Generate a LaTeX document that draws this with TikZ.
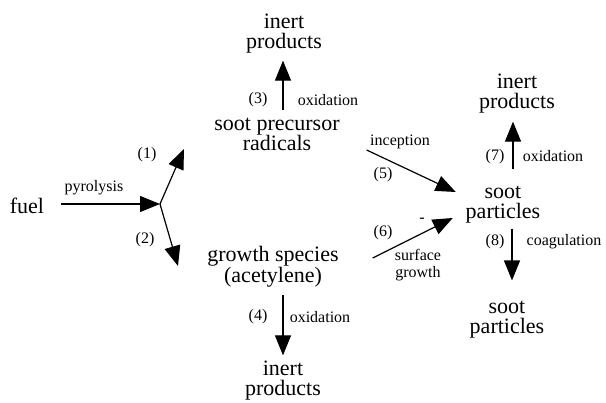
\documentclass[tikz,border=0pt]{standalone}
\usepackage{fontspec}
\setmainfont{Liberation Serif}
\usetikzlibrary{arrows.meta}
\begin{document}
\begin{tikzpicture}[x=1pt,y=-1pt,
  big/.style={font=\fontsize{22}{20}\selectfont, align=center, inner sep=0pt, outer sep=0pt},
  lab/.style={font=\fontsize{16}{17}\selectfont, align=center, inner sep=0pt, outer sep=0pt},
  arr/.style={line width=1.2pt, -{Triangle[length=20pt,width=16pt]}}]
\useasboundingbox[fill=white] (0,0) rectangle (606,403);
% main species
\node[big] (fuel)    at (27,206)  {fuel};
\node[big] (ipTop)   at (284,34)  {inert\\products};
\node[big] (spr)     at (277,134) {soot precursor\\radicals};
\node[big] (gs)      at (273,267) {growth species\\(acetylene)};
\node[big] (ipBot)   at (283,381) {inert\\products};
\node[big] (ipRight) at (517,94)  {inert\\products};
\node[big] (spRight) at (503,205) {soot\\particles};
\node[big] (spBot)   at (507,320) {soot\\particles};
% junction and free ends
\coordinate (j)  at (160,204);
\coordinate (t1) at (184,149);
\coordinate (t2) at (178,266);
% labels
\node[lab] (lpyr) at (94,188)  {pyrolysis};
\node[lab] (l1)   at (147,155) {(1)};
\node[lab] (l2)   at (145,240) {(2)};
\node[lab] (l3)   at (258,100) {(3)};
\node[lab] (ox3)  at (328,100) {oxidation};
\node[lab] (l4)   at (258,317) {(4)};
\node[lab] (ox4)  at (320,317) {oxidation};
\node[lab] (linc) at (400,142) {inception};
\node[lab] (l5)   at (383,175) {(5)};
\node[lab] (l6)   at (383,233) {(6)};
\node[lab] (lsg)  at (418,265) {surface\\growth};
\node[lab] (dash) at (422,220) {-};
\node[lab] (l7)   at (495,157) {(7)};
\node[lab] (ox7)  at (553,156) {oxidation};
\node[lab] (l8)   at (495,242) {(8)};
\node[lab] (coag) at (564,242) {coagulation};
% connectors
\draw[arr] ([xshift=17pt]fuel.east |- j) -- (j);
\draw[arr] (j) -- (t1);
\draw[arr] (j) -- (t2);
\draw[arr] ([xshift=6pt,yshift=8pt]spr.north) -- ([xshift=-1pt,yshift=-7pt]ipTop.south);
\draw[arr] ([xshift=10pt,yshift=-7pt]gs.south) -- ([yshift=6pt]ipBot.north);
\draw[arr] ([xshift=27pt,yshift=-16pt]spr.east) -- ([xshift=-10pt,yshift=13pt]spRight.west);
\draw[arr] ([xshift=34pt,yshift=9pt]gs.east) -- ([xshift=-13pt,yshift=-13pt]spRight.west);
\draw[arr] ([xshift=10pt,yshift=17pt]spRight.north) -- ([xshift=-4pt,yshift=-8pt]ipRight.south);
\draw[arr] ([xshift=9pt,yshift=-5pt]spRight.south) -- ([xshift=5pt,yshift=21pt]spBot.north);
\end{tikzpicture}
\end{document}
